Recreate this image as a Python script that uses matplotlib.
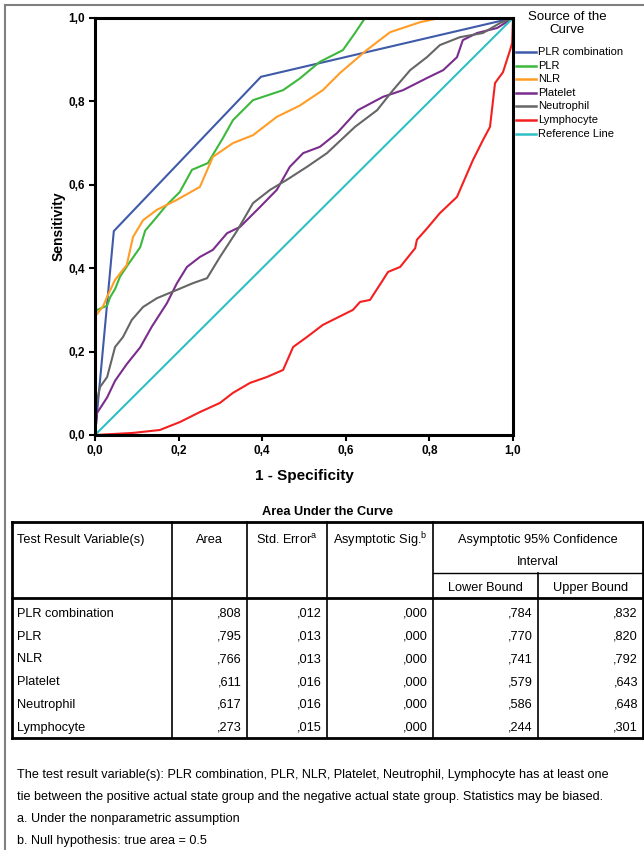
import matplotlib
matplotlib.use("Agg")
import matplotlib.pyplot as plt
from matplotlib.lines import Line2D
from matplotlib.ticker import FuncFormatter

plt.rcParams['font.family'] = ['Liberation Sans', 'DejaVu Sans']

# ROC curves (1 - specificity, sensitivity)
NAMES = ["PLR combination", "PLR", "NLR", "Platelet", "Neutrophil", "Lymphocyte", "Reference Line"]
COLORS = ["#3f5aa8", "#3cb83c", "#ff9d26", "#7a2d8c", "#666666", "#f42020", "#30c0c4"]

comb_x = [0, 0.045, 0.397, 1.0]
comb_y = [0, 0.489, 0.859, 1.0]

plr_x = [0, 0, 0.005, 0.029, 0.036, 0.048, 0.06, 0.08, 0.108, 0.12, 0.148, 0.17, 0.203, 0.232, 0.27,
         0.306, 0.33, 0.378, 0.45, 0.49, 0.538, 0.593, 0.622, 0.646, 1.0]
plr_y = [0, 0.29, 0.30, 0.31, 0.33, 0.35, 0.38, 0.41, 0.45, 0.49, 0.523, 0.55, 0.583, 0.636, 0.652,
         0.712, 0.755, 0.803, 0.827, 0.855, 0.895, 0.923, 0.964, 1.0, 1.0]

nlr_x = [0, 0, 0.005, 0.02, 0.031, 0.048, 0.076, 0.091, 0.115, 0.148, 0.196, 0.251, 0.282, 0.33,
         0.378, 0.435, 0.49, 0.545, 0.586, 0.65, 0.706, 0.778, 0.825, 1.0]
nlr_y = [0, 0.288, 0.29, 0.31, 0.336, 0.372, 0.408, 0.475, 0.515, 0.54, 0.564, 0.595, 0.667, 0.70,
         0.719, 0.763, 0.79, 0.827, 0.868, 0.923, 0.966, 0.99, 1.0, 1.0]

plt_x = [0, 0.005, 0.029, 0.048, 0.076, 0.108, 0.136, 0.172, 0.196, 0.22, 0.251, 0.282, 0.316, 0.347,
         0.395, 0.435, 0.466, 0.498, 0.538, 0.579, 0.629, 0.689, 0.737, 0.794, 0.833, 0.866, 0.88,
         0.914, 0.962, 1.0]
plt_y = [0, 0.053, 0.09, 0.13, 0.17, 0.21, 0.26, 0.316, 0.364, 0.403, 0.427, 0.444, 0.484, 0.499,
         0.547, 0.588, 0.643, 0.676, 0.691, 0.724, 0.779, 0.811, 0.827, 0.856, 0.875, 0.906, 0.947,
         0.964, 0.976, 1.0]

neu_x = [0, 0, 0.005, 0.012, 0.029, 0.048, 0.067, 0.088, 0.115, 0.148, 0.196, 0.234, 0.268, 0.299,
         0.34, 0.378, 0.419, 0.459, 0.507, 0.555, 0.622, 0.675, 0.713, 0.754, 0.794, 0.825, 0.873,
         0.928, 0.969, 1.0]
neu_y = [0, 0.06, 0.084, 0.115, 0.139, 0.211, 0.235, 0.276, 0.307, 0.328, 0.348, 0.364, 0.376, 0.427,
         0.49, 0.556, 0.588, 0.612, 0.643, 0.676, 0.739, 0.779, 0.827, 0.875, 0.906, 0.935, 0.954,
         0.964, 0.988, 1.0]

lym_x = [0, 0.091, 0.155, 0.203, 0.251, 0.299, 0.33, 0.371, 0.411, 0.45, 0.474, 0.507, 0.545, 0.617,
         0.634, 0.658, 0.689, 0.701, 0.73, 0.766, 0.77, 0.794, 0.825, 0.866, 0.904, 0.928, 0.945,
         0.957, 0.976, 0.993, 0.998, 1.0]
lym_y = [0, 0.005, 0.012, 0.031, 0.055, 0.077, 0.101, 0.125, 0.139, 0.156, 0.211, 0.235, 0.264, 0.30,
         0.319, 0.324, 0.372, 0.391, 0.403, 0.448, 0.468, 0.495, 0.532, 0.571, 0.659, 0.707, 0.739,
         0.844, 0.87, 0.923, 0.94, 1.0]

ref_x = [0, 1]
ref_y = [0, 1]

CURVES = [(comb_x, comb_y), (plr_x, plr_y), (nlr_x, nlr_y), (plt_x, plt_y),
          (neu_x, neu_y), (lym_x, lym_y), (ref_x, ref_y)]

# AUC table
TABLE_ROWS = ["PLR combination", "PLR", "NLR", "Platelet", "Neutrophil", "Lymphocyte"]
AREA = [",808", ",795", ",766", ",611", ",617", ",273"]
STD_ERR = [",012", ",013", ",013", ",016", ",016", ",015"]
SIG = [",000", ",000", ",000", ",000", ",000", ",000"]
LOWER = [",784", ",770", ",741", ",579", ",586", ",244"]
UPPER = [",832", ",820", ",792", ",643", ",648", ",301"]

NOTES = ["The test result variable(s): PLR combination, PLR, NLR, Platelet, Neutrophil, Lymphocyte has at least one",
         "tie between the positive actual state group and the negative actual state group. Statistics may be biased.",
         "a. Under the nonparametric assumption",
         "b. Null hypothesis: true area = 0.5"]

W, H = 644, 850
fig = plt.figure(figsize=(W / 100, H / 100), dpi=100)


def fx(px):
    return px / W


def fy(py):
    return 1 - py / H


def hline(x0, x1, y, lw=1.0, color="black"):
    fig.add_artist(Line2D([fx(x0), fx(x1)], [fy(y), fy(y)], transform=fig.transFigure,
                          color=color, lw=lw, solid_capstyle="projecting"))


def vline(x, y0, y1, lw=1.0, color="black"):
    fig.add_artist(Line2D([fx(x), fx(x)], [fy(y0), fy(y1)], transform=fig.transFigure,
                          color=color, lw=lw, solid_capstyle="projecting"))


# outer frame
hline(5, 644, 5, lw=1.5, color="#808080")
vline(5, 5, 850, lw=1.5, color="#808080")

# ROC plot
ax = fig.add_axes([fx(95), fy(435), fx(513) - fx(95), fy(18) - fy(435)])
for (xs, ys), name, col in zip(CURVES, NAMES, COLORS):
    ax.plot(xs, ys, color=col, lw=1.5, label=name)

ax.set_xlim(0, 1)
ax.set_ylim(0, 1)
ticks = [0, 0.2, 0.4, 0.6, 0.8, 1.0]
ax.set_xticks(ticks)
ax.set_yticks(ticks)
fmt = FuncFormatter(lambda v, p: ("%.1f" % v).replace(".", ","))
ax.xaxis.set_major_formatter(fmt)
ax.yaxis.set_major_formatter(fmt)
ax.tick_params(length=4, width=1.5, labelsize=8.5, pad=3)
for lab in ax.get_xticklabels() + ax.get_yticklabels():
    lab.set_fontweight("bold")
for sp in ax.spines.values():
    sp.set_linewidth(2.2)
ax.set_xlabel("1 - Specificity", fontsize=11, fontweight="bold", labelpad=9)
ax.set_ylabel("Sensitivity", fontsize=10, fontweight="bold", labelpad=2)

# legend
fig.text(fx(567), fy(17), "Source of the", ha="center", va="center", fontsize=9.5)
fig.text(fx(567), fy(30), "Curve", ha="center", va="center", fontsize=9.5)
for i, (name, col) in enumerate(zip(NAMES, COLORS)):
    yy = 52 + i * 13.6
    hline(516, 536, yy, lw=1.8, color=col)
    fig.text(fx(538), fy(yy), name, ha="left", va="center", fontsize=8)

# table
fs = 9.2
cols = [12, 172, 247, 327, 433, 538, 643]
top, head_bot, bottom = 522, 598, 738
fig.text(fx(328), fy(512), "Area Under the Curve", ha="center", va="center",
         fontsize=fs, fontweight="bold")
hline(cols[0], cols[-1], top, lw=2.0)
hline(cols[0], cols[-1], head_bot, lw=2.0)
hline(cols[0], cols[-1], bottom, lw=2.0)
hline(cols[4], cols[-1], 573, lw=1.0)
vline(cols[0], top, bottom, lw=2.0)
vline(cols[-1], top, bottom, lw=2.0)
for c in cols[1:5]:
    vline(c, top, bottom, lw=1.2)
vline(cols[5], 573, bottom, lw=1.2)

hy = 540
fig.text(fx(17), fy(hy), "Test Result Variable(s)", ha="left", va="center", fontsize=fs)
fig.text(fx((cols[1] + cols[2]) / 2), fy(hy), "Area", ha="center", va="center", fontsize=fs)
fig.text(fx((cols[2] + cols[3]) / 2), fy(hy), r"Std. Error$^{\mathregular{a}}$", ha="center",
         va="center", fontsize=fs)
fig.text(fx((cols[3] + cols[4]) / 2), fy(hy), r"Asymptotic Sig.$^{\mathregular{b}}$", ha="center",
         va="center", fontsize=fs)
fig.text(fx((cols[4] + cols[6]) / 2), fy(hy), "Asymptotic 95% Confidence", ha="center",
         va="center", fontsize=fs)
fig.text(fx((cols[4] + cols[6]) / 2), fy(562), "Interval", ha="center", va="center", fontsize=fs)
fig.text(fx((cols[4] + cols[5]) / 2), fy(588), "Lower Bound", ha="center", va="center", fontsize=fs)
fig.text(fx((cols[5] + cols[6]) / 2), fy(588), "Upper Bound", ha="center", va="center", fontsize=fs)

for i, name in enumerate(TABLE_ROWS):
    yy = 614 + i * 22.7
    fig.text(fx(17), fy(yy), name, ha="left", va="center", fontsize=fs)
    for j, vals in enumerate([AREA, STD_ERR, SIG, LOWER, UPPER]):
        fig.text(fx(cols[j + 2] - 5), fy(yy), vals[i], ha="right", va="center", fontsize=fs)

for i, note in enumerate(NOTES):
    fig.text(fx(17), fy(775 + i * 22), note, ha="left", va="center", fontsize=9.1)

fig.savefig("out.png", dpi=100)
